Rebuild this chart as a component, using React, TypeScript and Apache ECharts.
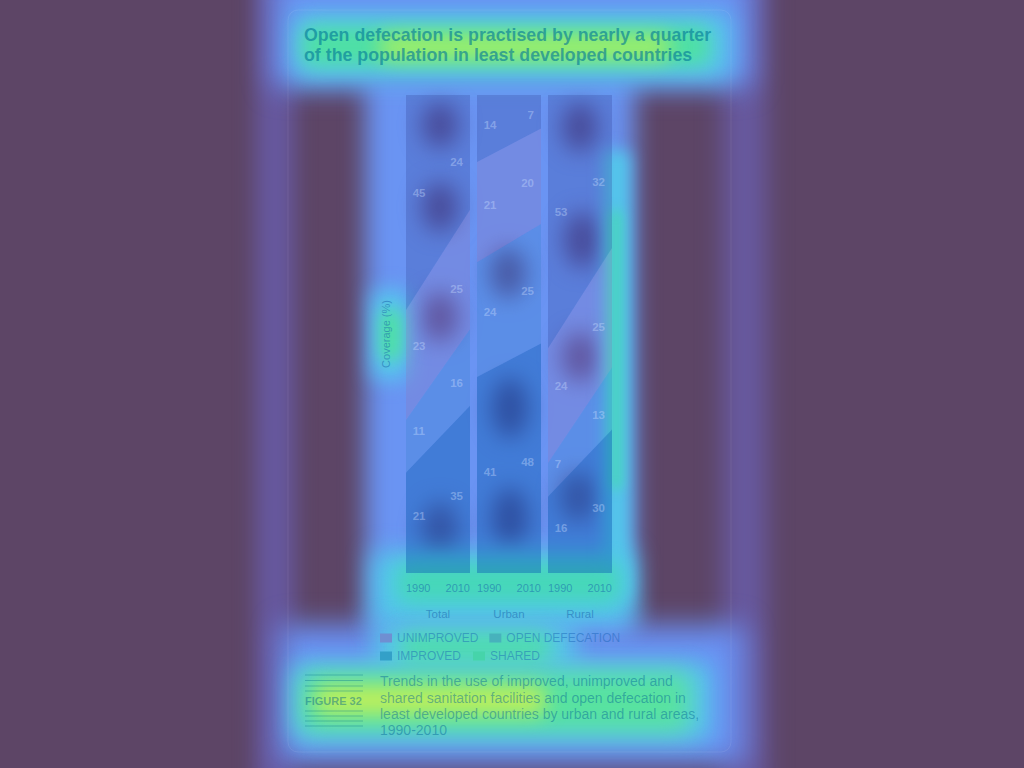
import React, { useEffect, useRef } from "react";
import * as echarts from "echarts";

// ---- data (per area: Total, Urban, Rural; values for 1990, 2010) ----
const years = ["1990", "2010"];
const areas = ["Total", "Urban", "Rural"];
const improved = [[21, 35], [41, 48], [16, 30]];
const shared = [[11, 16], [24, 25], [7, 13]];
const unimproved = [[23, 25], [21, 20], [24, 25]];
const openDefecation = [[45, 24], [14, 7], [53, 32]];
const legendRow1 = ["UNIMPROVED", "OPEN DEFECATION"];
const legendRow2 = ["IMPROVED", "SHARED"];

const TITLE = "Open defecation is practised by nearly a quarter\nof the population in least developed countries";
const CAPTION =
  "Trends in the use of improved, unimproved and\nshared sanitation facilities and open defecation in\nleast developed countries by urban and rural areas,\n1990-2010";

const SANS = "'Liberation Sans', Arial, sans-serif";

// bands from bottom to top
const bands = [
  { name: "IMPROVED", values: improved, area: "rgba(10,90,176,0.42)", icon: "#33a0c8" },
  { name: "SHARED", values: shared, area: "rgba(42,122,192,0.22)", icon: "#46d4aa" },
  { name: "UNIMPROVED", values: unimproved, area: "rgba(150,110,175,0.22)", icon: "#6f8fd2" },
  { name: "OPEN DEFECATION", values: openDefecation, area: "rgba(42,58,144,0.25)", icon: "#47b2bc" },
];

const gridLeft = [406, 477, 548];

// decorative attention-map glow (background layers)
const heat = [
  { l: 255, t: -30, w: 40, h: 830, c: "#66589e", b: 10 },
  { l: 722, t: -30, w: 45, h: 830, c: "#67599f", b: 12 },
  { l: 272, t: -30, w: 480, h: 118, c: "#6a90f3", b: 14 },
  { l: 365, t: 70, w: 270, h: 575, c: "#6a94f3", b: 12 },
  { l: 280, t: 625, w: 465, h: 140, c: "#6a90f3", b: 14 },
  { l: 422, t: 102, w: 36, h: 46, c: "#52529f", b: 11, r: "50%" },
  { l: 422, t: 182, w: 36, h: 50, c: "#52529f", b: 11, r: "50%" },
  { l: 422, t: 292, w: 36, h: 50, c: "#52529f", b: 11, r: "50%" },
  { l: 422, t: 502, w: 36, h: 56, c: "#52529f", b: 11, r: "50%" },
  { l: 490, t: 248, w: 36, h: 50, c: "#52529f", b: 11, r: "50%" },
  { l: 492, t: 378, w: 36, h: 60, c: "#4a4a98", b: 11, r: "50%" },
  { l: 492, t: 488, w: 36, h: 60, c: "#4a4a98", b: 11, r: "50%" },
  { l: 562, t: 102, w: 36, h: 50, c: "#52529f", b: 11, r: "50%" },
  { l: 564, t: 212, w: 36, h: 56, c: "#52529f", b: 11, r: "50%" },
  { l: 562, t: 332, w: 36, h: 50, c: "#52529f", b: 11, r: "50%" },
  { l: 560, t: 472, w: 36, h: 50, c: "#52529f", b: 11, r: "50%" },
  { l: 292, t: 12, w: 440, h: 68, c: "#56c6ee", b: 12 },
  { l: 372, t: 552, w: 262, h: 72, c: "#52c8ea", b: 12 },
  { l: 604, t: 150, w: 26, h: 450, c: "#52c8ea", b: 8 },
  { l: 372, t: 290, w: 36, h: 90, c: "#56c6ee", b: 10 },
  { l: 375, t: 625, w: 200, h: 45, c: "#56caea", b: 12 },
  { l: 292, t: 662, w: 420, h: 80, c: "#56c6ee", b: 12 },
  { l: 302, t: 26, w: 408, h: 40, c: "#4ee0a4", b: 10 },
  { l: 398, t: 564, w: 222, h: 38, c: "#46d8b8", b: 10 },
  { l: 610, t: 210, w: 12, h: 280, c: "#48d4bc", b: 6 },
  { l: 380, t: 310, w: 22, h: 50, c: "#4ee0a4", b: 8 },
  { l: 400, t: 632, w: 150, h: 30, c: "#50dcb0", b: 10 },
  { l: 300, t: 672, w: 390, h: 60, c: "#58e2a0", b: 12 },
  { l: 380, t: 36, w: 290, h: 22, c: "#a8f060", b: 10 },
  { l: 315, t: 686, w: 230, h: 28, c: "#c0f058", b: 10 },
];

function bandLimits(areaIdx: number, bandIdx: number, f: number) {
  let lo = 0;
  for (let k = 0; k < bandIdx; k++) {
    const v = bands[k].values[areaIdx];
    lo += v[0] + (v[1] - v[0]) * f;
  }
  const v = bands[bandIdx].values[areaIdx];
  const hi = lo + v[0] + (v[1] - v[0]) * f;
  return [lo, hi];
}

export default function App() {
  const ref = useRef<HTMLDivElement>(null);

  useEffect(() => {
    if (!ref.current) return;
    const chart = echarts.init(ref.current, undefined, { renderer: "svg" });
    const n = areas.length;

    const series: any[] = [];
    areas.forEach((_, i) => {
      bands.forEach((b) => {
        series.push({
          type: "line",
          name: b.name,
          xAxisIndex: i,
          yAxisIndex: i,
          stack: "s" + i,
          symbol: "none",
          lineStyle: { width: 0, opacity: 0 },
          itemStyle: { color: b.icon },
          areaStyle: { color: b.area, opacity: 1 },
          data: b.values[i],
        });
      });
      const labels: any[] = [];
      bands.forEach((b, k) => {
        const [l0, h0] = bandLimits(i, k, 0.2);
        labels.push({
          value: [0.105, (l0 + h0) / 2, b.values[i][0]],
          label: { position: "right" },
        });
        const [l1, h1] = bandLimits(i, k, 0.8);
        labels.push({
          value: [0.89, (l1 + h1) / 2, b.values[i][1]],
          label: { position: "left" },
        });
      });
      series.push({
        type: "scatter",
        name: "labels" + i,
        xAxisIndex: n + i,
        yAxisIndex: i,
        silent: true,
        symbolSize: 0,
        itemStyle: { color: "transparent" },
        z: 5,
        label: {
          show: true,
          distance: 0,
          formatter: (p: any) => String(p.value[2]),
          color: "rgba(200,220,255,0.5)",
          fontFamily: SANS,
          fontSize: 11.5,
          fontWeight: "bold",
        },
        data: labels,
      });
    });

    const axisTextColor = "rgba(20,95,170,0.5)";
    const lines = [675, 680.5, 686, 691, 711, 716, 721, 726];

    const legendText = { fontFamily: SANS, fontSize: 12, color: "rgba(20,95,180,0.45)" };

    chart.setOption({
      animation: false,
      backgroundColor: "transparent",
      title: {
        text: TITLE,
        left: 299,
        top: 20,
        textStyle: {
          fontFamily: SANS,
          fontSize: 17.8,
          fontWeight: "bold",
          lineHeight: 20,
          color: "rgba(0,118,150,0.6)",
        },
      },
      legend: [
        {
          data: legendRow1,
          left: 375,
          top: 627,
          icon: "rect",
          itemWidth: 12,
          itemHeight: 9,
          itemGap: 11,
          itemStyle: { borderWidth: 0 },
          textStyle: legendText,
        },
        {
          data: legendRow2,
          left: 375,
          top: 645,
          icon: "rect",
          itemWidth: 12,
          itemHeight: 9,
          itemGap: 12,
          itemStyle: { borderWidth: 0 },
          textStyle: legendText,
        },
      ],
      grid: areas.map((_, i) => ({ left: gridLeft[i], top: 95, width: 64, height: 478 })),
      xAxis: [
        ...areas.map((a, i) => ({
          type: "category",
          gridIndex: i,
          data: years,
          boundaryGap: false,
          axisLine: { show: false },
          axisTick: { show: false },
          splitLine: { show: false },
          axisLabel: {
            alignMinLabel: "left",
            alignMaxLabel: "right",
            interval: 0,
            margin: 9,
            fontFamily: SANS,
            fontSize: 11,
            color: axisTextColor,
          },
          name: a,
          nameLocation: "middle",
          nameGap: 35,
          nameTextStyle: { fontFamily: SANS, fontSize: 11.5, color: axisTextColor },
        })),
        ...areas.map((_, i) => ({
          type: "value",
          gridIndex: i,
          min: 0,
          max: 1,
          show: false,
        })),
      ],
      yAxis: areas.map((_, i) => ({
        type: "value",
        gridIndex: i,
        min: 0,
        max: 100,
        axisLine: { show: false },
        axisTick: { show: false },
        axisLabel: { show: false },
        splitLine: { show: false },
        name: i === 0 ? "Coverage (%)" : "",
        nameLocation: "middle",
        nameRotate: 90,
        nameGap: 15,
        nameTextStyle: { fontFamily: SANS, fontSize: 11, color: axisTextColor },
      })),
      series,
      graphic: [
        {
          type: "rect",
          silent: true,
          shape: { x: 288, y: 10, width: 443, height: 742, r: 10 },
          style: { fill: "none", stroke: "rgba(255,255,255,0.08)", lineWidth: 1 },
        },
        ...lines.map((y) => ({
          type: "line",
          silent: true,
          shape: { x1: 305, y1: y, x2: 363, y2: y },
          style: { stroke: "rgba(0,110,140,0.35)", lineWidth: 1 },
        })),
        {
          type: "text",
          silent: true,
          x: 305,
          y: 701,
          style: {
            text: "FIGURE 32",
            fontFamily: SANS,
            fontSize: 11,
            fontWeight: "bold",
            fill: "rgba(0,100,140,0.45)",
            verticalAlign: "middle",
          },
        },
        {
          type: "text",
          silent: true,
          x: 380,
          y: 673,
          style: {
            text: CAPTION,
            fontFamily: SANS,
            fontSize: 14,
            lineHeight: 16.4,
            fill: "rgba(0,100,150,0.45)",
            verticalAlign: "top",
          },
        },
      ],
    });
    return () => chart.dispose();
  }, []);

  return (
    <div
      style={{
        position: "fixed",
        left: 0,
        top: 0,
        width: 1024,
        height: 768,
        overflow: "hidden",
        background: "#5d4566",
      }}
    >
      {heat.map((h, i) => (
        <div
          key={i}
          style={{
            position: "absolute",
            left: h.l,
            top: h.t,
            width: h.w,
            height: h.h,
            background: h.c,
            borderRadius: (h as any).r || 8,
            filter: `blur(${h.b}px)`,
          }}
        />
      ))}
      <div ref={ref} style={{ position: "absolute", left: 0, top: 0, width: 1024, height: 768 }} />
    </div>
  );
}
